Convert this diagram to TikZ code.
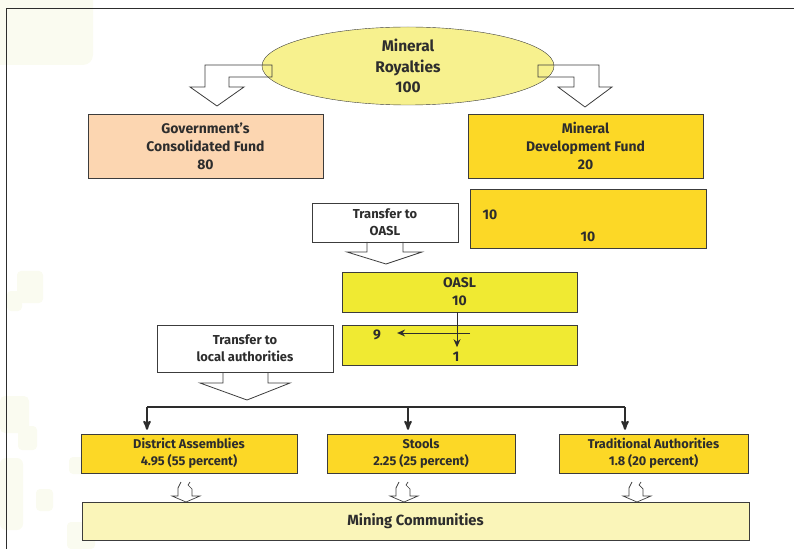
\documentclass[tikz,border=0pt]{standalone}
\usepackage{fontspec}
\setmainfont{Fira Sans}
\usetikzlibrary{arrows, arrows.meta, positioning, shapes.geometric}
\tikzset{
    %Define standard arrow tip
    >=stealth',
}
\definecolor{txt}{RGB}{45,45,45}
\definecolor{edge}{RGB}{60,60,60}
\definecolor{royal}{RGB}{247,241,142}
\definecolor{peach}{RGB}{252,214,177}
\definecolor{gold}{RGB}{252,216,38}
\definecolor{lemon}{RGB}{240,234,50}
\definecolor{cream}{RGB}{250,245,185}
\definecolor{faint}{RGB}{250,251,240}

\begin{document}
\begin{tikzpicture}[x=1bp, y=-1bp,
    box/.style = {draw=edge, text=txt, align=center, inner sep=0pt,
                  font=\bfseries\fontsize{14}{18}\selectfont},
    small/.style = {box, font=\bfseries\fontsize{12.8}{17}\selectfont},
    callout/.style = {box, fill=white, font=\bfseries\fontsize{13}{17}\selectfont},
    num/.style = {text=txt, inner sep=0pt, font=\bfseries\fontsize{14}{15}\selectfont},
    blockarrow/.style = {draw=edge, line width=0.8bp, line join=miter},
    thinarrow/.style = {-{Stealth[length=8bp, width=7bp]}, draw=txt, line width=1bp},
    bar/.style = {draw=txt, line width=2bp},
  ]
  \useasboundingbox (0,0) rectangle (794,549);
  % faint background patches
  \fill[faint, rounded corners=10bp] (-10,-10) rectangle (93,65);
  \fill[faint, rounded corners=4bp] (17,271) rectangle (43,303);
  \fill[faint, rounded corners=4bp] (7,291) rectangle (22,311);
  \fill[faint, rounded corners=5bp] (0,396) rectangle (29,433);
  \fill[faint, rounded corners=4bp] (18,426) rectangle (37,450);
  \fill[faint, rounded corners=6bp] (0,458) rectangle (23,530);
  \fill[faint, rounded corners=4bp] (36,489) rectangle (53,511);
  \fill[faint, rounded corners=4bp] (69,457) rectangle (90,474);
  \fill[faint, rounded corners=4bp] (67,522) rectangle (95,549);
  \draw[txt, line width=1.2bp] (6.5,549) -- (6.5,8.5) -- (794,8.5);

  \node[box, ellipse, fill=royal, minimum width=292bp, minimum height=78bp,
        font=\bfseries\fontsize{15.5}{20.5}\selectfont] (royalties) at (408,66)
        {Mineral\\Royalties\\100};
  \draw[blockarrow] (272,65) -- (205,65) -- (205,87) -- (190,87) -- (217,106)
        -- (244,87) -- (229,87) -- (229,77) -- (272,77) -- cycle;
  \draw[blockarrow] (538,65) -- (599,65) -- (599,87) -- (612,87) -- (585,107)
        -- (558,87) -- (574,87) -- (574,77) -- (538,77) -- cycle;

  \node[box, fill=peach, minimum width=235bp, minimum height=64bp] (gov-fund)
        at (205.5,146) {Government's\\Consolidated Fund\\80};
  \node[box, fill=gold, minimum width=235bp, minimum height=64bp] (dev-fund)
        at (585.5,146) {Mineral\\Development Fund\\20};
  \node[box, fill=gold, minimum width=236bp, minimum height=59bp] (dev-split)
        at (588,218.5) {};
  \node[num] (dev-left) at (490,215) {10};
  \node[num] (dev-right) at (588,237) {10};

  \node[callout, minimum width=146bp, minimum height=39bp] (to-oasl)
        at (385,222.5) {Transfer to\\OASL};
  \draw[blockarrow] (367,242) -- (367,252) -- (347,252) -- (386,264)
        -- (422,252) -- (403,252) -- (403,242);

  \node[box, fill=lemon, minimum width=235bp, minimum height=40bp] (oasl)
        at (459.5,292) {OASL\\10};
  \node[box, fill=lemon, minimum width=235bp, minimum height=40bp] (oasl-split)
        at (459.5,345) {};
  \node[num] (oasl-nine) at (377,335) {9};
  \node[num] (oasl-one) at (456,357) {1};
  \coordinate (split-from) at (470,333);
  \draw[thinarrow] ([xshift=-2.5bp]oasl.south) -- ++(0,35);
  \draw[thinarrow] (split-from) -- ([xshift=16bp]oasl-nine.east |- split-from);

  \node[callout, minimum width=176bp, minimum height=47bp] (to-local)
        at (245,348.5) {Transfer to\\local authorities};
  \draw[blockarrow] (223,372) -- (223,383) -- (200,383) -- (247,400)
        -- (290,383) -- (268,383) -- (268,372);

  \node[small, fill=gold, minimum width=216bp, minimum height=39bp] (district)
        at (189,453.5) {District Assemblies\\4.95 (55 percent)};
  \node[small, fill=gold, minimum width=188bp, minimum height=39bp] (stools)
        at (421,453.5) {Stools\\2.25 (25 percent)};
  \node[small, fill=gold, minimum width=189bp, minimum height=39bp] (traditional)
        at (653.5,453.5) {Traditional Authorities\\1.8 (20 percent)};

  \coordinate (bar-l) at (147,407);
  \coordinate (bar-m) at (408,407);
  \coordinate (bar-r) at (625,407);
  \draw[bar, line join=miter] (bar-l) -- (bar-r);
  \draw[->, bar, shorten >=4bp] (bar-l) -- (bar-l |- district.north);
  \draw[->, bar, shorten >=4bp] (bar-m) -- (bar-m |- stools.north);
  \draw[->, bar, shorten >=4bp] (bar-r) -- (bar-r |- traditional.north);

  \node[box, fill=cream, minimum width=667bp, minimum height=38bp,
        font=\bfseries\fontsize{14.8}{16}\selectfont] (mining)
        at (415.5,521) {Mining Communities};

  % small arrows down to the communities
  \foreach \x in {186,404,637} {
    \draw[edge, line width=0.7bp] (\x-8,488) -- (\x-5,482);
    \draw[edge, line width=0.7bp] (\x-8,488) -- (\x-8,496) -- (\x-14,496) -- (\x,502)
          -- (\x+14,496) -- (\x+6,496) -- (\x+6,489) -- (\x+2,485) -- (\x+4,482);
  }
\end{tikzpicture}
\end{document}
